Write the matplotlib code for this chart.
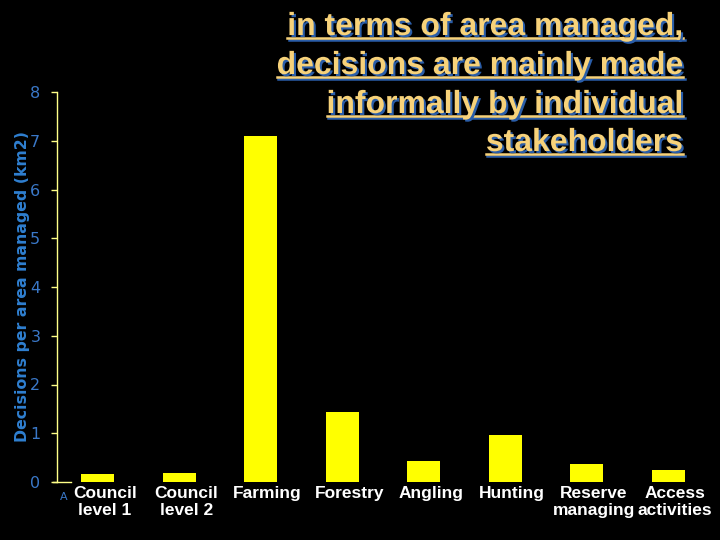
import matplotlib
matplotlib.use('Agg')
import matplotlib.pyplot as plt
import matplotlib.patheffects as pe
import matplotlib.transforms as mtransforms
from matplotlib.lines import Line2D

# data
categories = ['Council\nlevel 1', 'Council\nlevel 2', 'Farming', 'Forestry',
              'Angling', 'Hunting', 'Reserve\nmanaging', 'Access\nactivities']
values = [0.16, 0.19, 7.1, 1.43, 0.43, 0.97, 0.37, 0.25]
yticks = [0, 1, 2, 3, 4, 5, 6, 7, 8]
title_lines = ['in terms of area managed,',
               'decisions are mainly made',
               'informally by individual',
               'stakeholders']

W, H = 720, 540
fig = plt.figure(figsize=(7.2, 5.4), dpi=100, facecolor='black')
ax = fig.add_axes([57 / W, 1 - 482 / H, (709 - 57) / W, (482 - 92) / H])
ax.set_facecolor('black')

x = list(range(len(categories)))
ax.bar(x, values, width=0.4, color='#ffff00', zorder=3)
ax.set_xlim(-0.5, len(categories) - 0.5)
ax.set_ylim(0, 8)

for s in ['top', 'right', 'bottom']:
    ax.spines[s].set_visible(False)
ax.spines['left'].set_color('#ffff88')
ax.spines['left'].set_linewidth(1)
# short stub of x axis at zero
ax.plot([-0.5 - 0.05, -0.5 + 0.17], [0, 0], color='#ffff88', lw=1,
        clip_on=False, zorder=4)

ax.set_yticks(yticks)
ax.set_yticklabels([str(v) for v in yticks])
ax.tick_params(axis='y', colors='#ffff88', labelcolor='#3a78c8',
               labelsize=11.5, length=4, width=1, pad=8)
ax.set_xticks(x)
ax.set_xticklabels(categories, color='white', fontsize=12.5,
                   fontweight='bold', family='Liberation Sans',
                   linespacing=1.15)
ax.tick_params(axis='x', length=0, pad=3)
shift = mtransforms.ScaledTranslation(7 / 100, 0, fig.dpi_scale_trans)
for lbl in ax.get_xticklabels():
    lbl.set_transform(lbl.get_transform() + shift)

ax.set_ylabel('Decisions per area managed (km2)', color='#2f7fd0',
              fontsize=11.3, fontweight='bold', labelpad=0)

fig.text(60 / W, 1 - 497 / H, 'A', color='#3a78c8', fontsize=8,
         ha='left', va='center')

# title block, right aligned, underlined with blue shadow
shadow = [pe.SimplePatchShadow(offset=(1.5, -1.5), shadow_rgbFace='#2a5da8',
                               alpha=1.0), pe.Normal()]
baselines = [35, 74, 113, 151]
texts = []
for line, yb in zip(title_lines, baselines):
    t = fig.text(683 / W, 1 - yb / H, line, color='#f7d27a', fontsize=23,
                 fontweight='bold', family='Liberation Sans',
                 ha='right', va='baseline', path_effects=shadow)
    texts.append(t)

fig.canvas.draw()
r = fig.canvas.get_renderer()
for t, yb in zip(texts, baselines):
    bb = t.get_window_extent(r)
    yl = H - (yb + 3)
    fig.add_artist(Line2D([bb.x0 / W + 1.5 / W, bb.x1 / W + 1.5 / W],
                          [(yl - 1.5) / H, (yl - 1.5) / H],
                          color='#2a5da8', lw=1.8))
    fig.add_artist(Line2D([bb.x0 / W, bb.x1 / W], [yl / H, yl / H],
                          color='#f7d27a', lw=1.8))

fig.savefig('out.png', dpi=100, facecolor='black')
